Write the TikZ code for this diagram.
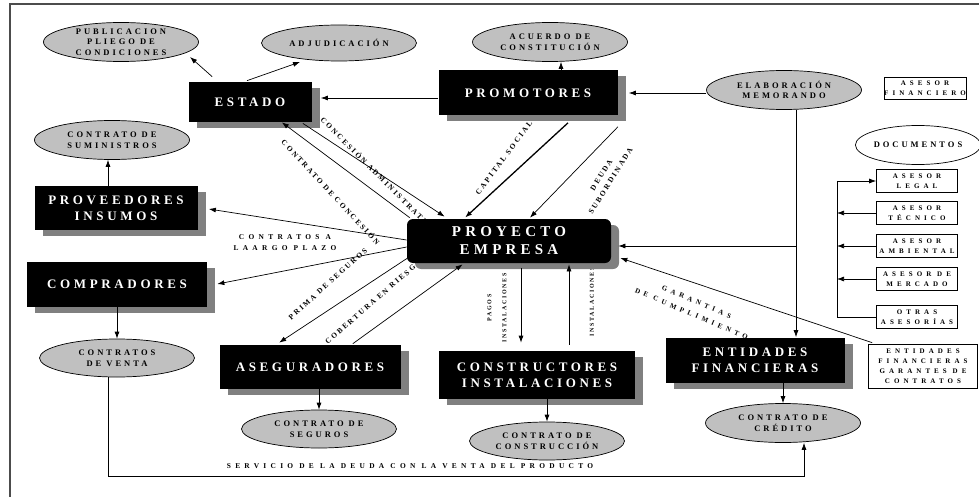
\documentclass[tikz,border=0pt]{standalone}
\usepackage{fontspec}
\setmainfont{Liberation Serif}
\newfontfamily\boxfont[LetterSpace=28]{Liberation Serif}
\newfontfamily\ovalfont[LetterSpace=35]{Liberation Serif}
\newfontfamily\edgefont[LetterSpace=28]{Liberation Serif}
\newfontfamily\widefont[LetterSpace=58]{Liberation Serif}
\usetikzlibrary{shapes.geometric,shadows,calc,arrows.meta}
\definecolor{ovalgray}{RGB}{192,192,192}
\definecolor{shadegray}{RGB}{128,128,128}
\tikzset{
  blackbox/.style={fill=black, text=white, align=center, inner sep=0pt,
    font=\boxfont\bfseries\fontsize{13}{16}\selectfont,
    drop shadow={shadow xshift=8pt, shadow yshift=-6pt, opacity=1, fill=shadegray}},
  oval/.style={ellipse, draw, fill=ovalgray, align=center, inner sep=0pt,
    minimum width=155pt, minimum height=39pt,
    font=\ovalfont\bfseries\fontsize{8.5}{10.5}\selectfont},
  asesor/.style={draw, fill=white, align=center, inner sep=0pt,
    minimum width=81pt, minimum height=23pt,
    font=\widefont\bfseries\fontsize{7}{10}\selectfont},
  edgelabel/.style={font=\edgefont\bfseries\fontsize{7.5}{8.5}\selectfont,
    align=center, inner sep=0pt},
  widelabel/.style={font=\widefont\bfseries\fontsize{7.4}{11}\selectfont,
    align=center, inner sep=0pt},
  arr/.style={-{Latex[length=7pt,width=5pt]}},
}

\begin{document}
\begin{tikzpicture}[x=1pt, y=-1pt, line width=0.7pt]
  \useasboundingbox (0,0) rectangle (979,497);
  \fill[white] (0,0) rectangle (979,497);
  \draw[line width=1.2pt, black!70] (979,4) -- (10,4) -- (10,497);
  % labels of the flows
  \path (331,192) node[edgelabel, rotate=-47] (lconcesion) {CONTRATO DE CONCESIÓN};
  \path (322,118) node[edgelabel, rotate=-45, anchor=west] (ladmin) {CONCESIÓN ADMINISTRATIVA};
  \path (504,158) node[edgelabel, rotate=53] (lcapital) {CAPITAL SOCIAL};
  \path (606,178) node[edgelabel, rotate=58, font=\edgefont\bfseries\fontsize{7.5}{11}\selectfont] (ldeuda) {DEUDA\\SUBORDINADA};
  \path (285,243) node[widelabel] (lplazo) {CONTRATOS A\\LAARGO PLAZO};
  \path (328,284) node[edgelabel, rotate=42] (lprima) {PRIMA DE SEGUROS};
  \path (326,343) node[edgelabel, rotate=41, anchor=west] (lcobertura) {COBERTURA EN RIESGO};
  \path (497,308) node[edgelabel, rotate=90, font=\edgefont\bfseries\fontsize{6}{15}\selectfont] (lpagos) {PAGOS\\INSTALACIONES};
  \path (592,302) node[edgelabel, rotate=90, font=\edgefont\bfseries\fontsize{6}{8}\selectfont] (linstal) {INSTALACIONES};
  \path (694,308) node[widelabel, rotate=-23, font=\widefont\bfseries\fontsize{7}{13}\selectfont] (lgarantias) {GARANTIAS\\DE CUMPLIMIENTO};
  \path (410,466) node[widelabel] (lservicio) {SERVICIO DE LA DEUDA CON LA VENTA DEL PRODUCTO};

  % actors
  \node[blackbox, minimum width=123pt, minimum height=40pt] (estado) at (250,102) {ESTADO};
  \node[blackbox, minimum width=179pt, minimum height=45pt] (promo) at (528,93) {PROMOTORES};
  \node[blackbox, minimum width=163pt, minimum height=43pt] (proveed) at (116,208) {PROVEEDORES\\INSUMOS};
  \node[blackbox, minimum width=180pt, minimum height=45pt] (compr) at (117,284) {COMPRADORES};
  \node[blackbox, minimum width=204pt, minimum height=44pt, rounded corners=6pt,
    font=\boxfont\bfseries\fontsize{15}{18}\selectfont] (proyecto) at (509,241) {PROYECTO\\EMPRESA};
  \node[blackbox, minimum width=181pt, minimum height=44pt] (asegur) at (310,367) {ASEGURADORES};
  \node[blackbox, minimum width=196pt, minimum height=48pt] (construc) at (537,375) {CONSTRUCTORES\\INSTALACIONES};
  \node[blackbox, minimum width=179pt, minimum height=45pt] (entidades) at (755,360) {ENTIDADES\\FINANCIERAS};

  % contracts
  \node[oval] (publ) at (121,42) {PUBLICACION\\PLIEGO DE\\CONDICIONES};
  \node[oval, minimum height=36pt] (adjud) at (339,43) {ADJUDICACIÓN};
  \node[oval] (acuerdo) at (550,42) {ACUERDO DE\\CONSTITUCIÓN};
  \node[oval] (elab) at (784,90) {ELABORACIÓN\\MEMORANDO};
  \node[oval, fill=white, minimum width=117pt] (docs) at (918,145) {DOCUMENTOS};
  \node[oval] (suminis) at (112,140) {CONTRATO DE\\SUMINISTROS};
  \node[oval, minimum height=38pt] (ventas) at (117,358) {CONTRATOS\\DE VENTA};
  \node[oval, minimum height=38pt] (seguros) at (319,429) {CONTRATO DE\\SEGUROS};
  \node[oval, minimum height=38pt] (construccion) at (547,441) {CONTRATO DE\\CONSTRUCCIÓN};
  \node[oval] (credito) at (783,423) {CONTRATO DE\\CRÉDITO};

  % advisers
  \node[asesor, minimum width=82pt, minimum height=22pt] (financiero) at (925,88) {ASESOR\\FINANCIERO};
  \node[asesor] (legal) at (917,181) {ASESOR\\LEGAL};
  \node[asesor] (tecnico) at (917,213) {ASESOR\\TÉCNICO};
  \node[asesor] (ambiental) at (917,246) {ASESOR\\AMBIENTAL};
  \node[asesor] (mercado) at (917,279) {ASESOR DE\\MERCADO};
  \node[asesor] (otras) at (917,317) {OTRAS\\ASESORÍAS};
  \node[asesor, minimum width=109pt, minimum height=44pt] (garantes) at (923,366) {ENTIDADES\\FINANCIERAS\\GARANTES DE\\CONTRATOS};

  \coordinate (rail) at (837,0);
  \coordinate (branch) at (796,246);

  % flows
  \draw[arr] ($(estado.north west)+(24,-5)$) -- ($(publ.south east)+(14,1)$);
  \draw[arr] ($(estado.north)+(-3,-1)$) -- ($(adjud)+(-39,19)$);
  \draw[arr] ($(promo.west)+(0,5)$) -- ($(estado.east)+(9,-4)$);
  \draw[arr] ($(promo.north)+(33,0)$) -- ($(acuerdo.south)+(11,0)$);
  \draw[arr] ($(elab.west)+(0,3)$) -- ($(promo.east)+(11,0)$);
  \draw[arr] ($(elab.south)+(12,0)$) -- ($(entidades.north)+(41,0)$);
  \draw[arr] (branch) -- ($(proyecto.east)+(7,5)$);
  \draw[arr, line width=1.3pt] ($(promo.south)+(40,7)$) -- ($(proyecto.north)+(-44,-1)$);
  \draw[arr] ($(promo.south east)+(0,11)$) -- ($(proyecto.north)+(21,-1)$);
  \draw[arr] ($(estado.south east)+(-9,1)$) -- ($(proyecto.north west)+(38,-2)$);
  \draw[arr] ($(proyecto.north west)+(3,-1)$) -- ($(estado.south east)+(-30,0)$);
  \draw[arr] ($(proyecto.west)+(0,-1)$) -- ($(proveed.east)+(11,1)$);
  \draw[arr] ($(proyecto.west)+(0,6)$) -- ($(compr.east)+(10,0)$);
  \draw[arr] ($(proyecto.west)+(1,17)$) -- ($(asegur.north west)+(60,-2)$);
  \draw[arr] ($(asegur.north east)+(-48,-1)$) -- ($(proyecto.south west)+(56,1)$);
  \draw[arr] ($(proyecto.south)+(12,5)$) -- ($(construc.north)+(-16,-8)$);
  \draw[arr] ($(construc.north)+(32,-6)$) -- ($(proyecto.south)+(60,1)$);
  \draw[arr] ($(garantes.north west)+(4,-1)$) -- ($(proyecto.east)+(9,17)$);
  \draw[arr] ($(proveed.north)+(-8,0)$) -- ($(suminis.south)+(-4,0)$);
  \draw[arr] (compr.south) -- (compr.south |- ventas.north);
  \draw[arr] (asegur.south -| seguros.north) -- (seguros.north);
  \draw[arr] (construc.south -| construccion.north) -- (construccion.north);
  \draw[arr] (entidades.south -| credito.north) -- (credito.north);
  \draw[arr] ($(ventas.south)+(-9,0)$) -- ++(0,99) -| ($(credito.south)+(21,0)$);

  % advisers rail
  \draw (legal.west -| rail) -- (otras.west -| rail);
  \draw[arr] (legal.west -| rail) -- (legal.west);
  \draw[arr] (tecnico.west) -- (tecnico.west -| rail);
  \draw[arr] (ambiental.west) -- (ambiental.west -| rail);
  \draw[arr] (mercado.west) -- (mercado.west -| rail);
  \draw (otras.west -| rail) -- (otras.west);
\end{tikzpicture}
\end{document}
